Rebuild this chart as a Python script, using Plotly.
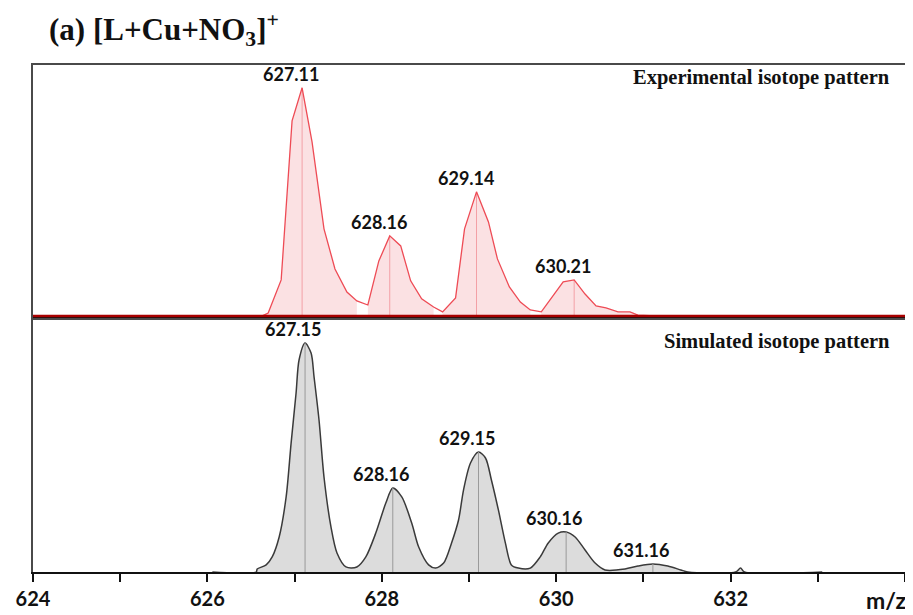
import numpy as np
import plotly.graph_objects as go

# ---------------- data ----------------
exp_mz = [626.629, 626.697, 626.846, 626.971, 627.086, 627.200, 627.337, 627.463, 627.600, 627.714,
          627.840, 627.966, 628.091, 628.217, 628.331, 628.457, 628.594,
          628.697, 628.846, 628.949, 629.086, 629.223, 629.326, 629.463, 629.589, 629.703,
          629.829, 630.080, 630.206, 630.331, 630.457, 630.571, 630.709, 630.846, 630.937, 631.131]
exp_int = [0.0, 1.3, 15.8, 85.5, 100.0, 76.3, 38.2, 20.6, 10.5, 6.6,
           4.8, 24.1, 35.1, 30.7, 15.4, 7.5, 3.9,
           1.8, 7.9, 38.2, 54.4, 41.2, 25.0, 12.7, 6.1, 2.6,
           1.8, 14.9, 15.8, 9.6, 4.4, 3.5, 1.8, 1.8, 0.4, 0.0]
exp_segments = [(626.6, 627.72), (627.83, 628.60), (628.69, 629.71), (629.82, 631.2)]
exp_labels = ["627.11", "628.16", "629.14", "630.21"]

sim_mz = [626.057, 626.560, 626.571, 626.674, 626.743, 626.823, 626.903, 626.960, 627.017, 627.051,
          627.120, 627.189, 627.223, 627.280, 627.337, 627.417, 627.486, 627.589,
          627.714, 627.817, 627.931, 628.046, 628.126, 628.229, 628.343, 628.423, 628.537, 628.617,
          628.709, 628.800, 628.880, 628.937, 629.017, 629.109, 629.189, 629.257, 629.337, 629.417,
          629.486, 629.566, 629.703, 629.817, 629.909, 630.023, 630.114, 630.217, 630.331, 630.446,
          630.560, 630.789, 630.937, 631.109, 631.280, 631.429, 631.509, 632.057, 632.114, 632.160, 633.051]
sim_int = [0.0, 0.0, 1.3, 3.1, 6.6, 15.3, 32.8, 56.3, 78.2, 92.6,
           100.0, 95.6, 85.2, 66.4, 41.5, 19.7, 8.3, 2.2,
           2.2, 6.6, 17.0, 30.1, 36.7, 32.8, 21.4, 10.9, 3.1, 1.7,
           3.9, 12.7, 22.7, 35.8, 47.6, 52.4, 49.8, 40.2, 27.1, 12.7,
           3.1, 1.7, 1.7, 6.6, 12.7, 17.0, 17.5, 15.3, 9.6, 3.9,
           0.9, 1.3, 2.6, 3.5, 2.6, 0.9, 0.0, 0.0, 1.7, 0.0, 0.0]
sim_segments = [(626.5, 627.65), (627.65, 628.66), (628.66, 629.6), (629.6, 630.7), (630.7, 631.6)]
sim_labels = ["627.15", "628.16", "629.15", "630.16", "631.16"]

x_range = [624, 634]
tick_vals = [624, 625, 626, 627, 628, 629, 630, 631, 632, 633, 634]
tick_text = ["624", "", "626", "", "628", "", "630", "", "632", "", ""]

# ---------------- styling ----------------
RED = "#ee4b55"
PINK = "rgba(248,200,204,0.55)"
RED_C = "#f3a0a6"
DARKRED = "#a80000"
GRAY_L = "#3a3a3a"
GRAY_F = "#dcdcdc"
GRAY_C = "#9a9a9a"
FRAME = "#4a4a4a"
LABEL_FONT = dict(family="Lato", size=18, color="#111")

# page body has an 8px default margin; figure is sized to fit the 913x615 window
W, H = 905, 607

fig = go.Figure()

exp_x = np.array(exp_mz)
exp_y = np.array(exp_int)
sim_x = np.array(sim_mz)
sim_y = np.array(sim_int)

# experimental fills per peak
for a, b in exp_segments:
    m = (exp_x >= a) & (exp_x <= b)
    fig.add_trace(go.Scatter(x=exp_x[m], y=exp_y[m], mode="lines", line=dict(width=0),
                             fill="tozeroy", fillcolor=PINK, xaxis="x2", yaxis="y2",
                             hoverinfo="skip", showlegend=False))
# experimental centroid lines + labels
exp_apex = []
for (a, b) in exp_segments:
    m = np.where((exp_x >= a) & (exp_x <= b))[0]
    i = m[np.argmax(exp_y[m])]
    exp_apex.append((exp_x[i], exp_y[i]))
for (px, py) in exp_apex:
    fig.add_trace(go.Scatter(x=[px, px], y=[0, py], mode="lines", line=dict(color=RED_C, width=1),
                             xaxis="x2", yaxis="y2", hoverinfo="skip", showlegend=False))
fig.add_trace(go.Scatter(x=exp_x, y=exp_y, mode="lines", line=dict(color=RED, width=1.3),
                         xaxis="x2", yaxis="y2", showlegend=False))
fig.add_trace(go.Scatter(x=x_range, y=[0, 0], mode="lines", line=dict(color=DARKRED, width=2.5),
                         xaxis="x2", yaxis="y2", hoverinfo="skip", showlegend=False))

# simulated
fig.add_trace(go.Scatter(x=sim_x, y=sim_y, mode="lines", line=dict(color=GRAY_L, width=1.5, shape="spline", smoothing=0.8),
                         fill="tozeroy", fillcolor=GRAY_F, xaxis="x", yaxis="y", showlegend=False))
sim_apex = []
for (a, b) in sim_segments:
    m = np.where((sim_x >= a) & (sim_x <= b))[0]
    i = m[np.argmax(sim_y[m])]
    sim_apex.append((sim_x[i], sim_y[i]))
for (px, py) in sim_apex:
    fig.add_trace(go.Scatter(x=[px, px], y=[0, py], mode="lines", line=dict(color=GRAY_C, width=1),
                             xaxis="x", yaxis="y", hoverinfo="skip", showlegend=False))

annotations = []
for (px, py), t in zip(exp_apex, exp_labels):
    annotations.append(dict(x=px, y=py, xref="x2", yref="y2", text="<b>%s</b>" % t, showarrow=False,
                            xanchor="center", yanchor="bottom", xshift=-11, yshift=1, font=LABEL_FONT))
for (px, py), t in zip(sim_apex, sim_labels):
    annotations.append(dict(x=px, y=py, xref="x", yref="y", text="<b>%s</b>" % t, showarrow=False,
                            xanchor="center", yanchor="bottom", xshift=-12, yshift=1, font=LABEL_FONT))
annotations.append(dict(x=0.985, y=0.95, xref="x2 domain", yref="y2 domain", text="<b>Experimental isotope pattern</b>",
                        showarrow=False, xanchor="right", yanchor="middle",
                        font=dict(family="Liberation Serif", size=20.5, color="#111")))
annotations.append(dict(x=0.985, y=0.91, xref="x domain", yref="y domain", text="<b>Simulated isotope pattern</b>",
                        showarrow=False, xanchor="right", yanchor="middle",
                        font=dict(family="Liberation Serif", size=20.5, color="#111")))
annotations.append(dict(x=1.002, y=-0.056, xref="paper", yref="paper", text="<b>m/z</b>",
                        showarrow=False, xanchor="right", yanchor="middle", borderpad=0,
                        font=dict(family="Lato", size=23, color="#111")))

fig.update_layout(
    width=W, height=H,
    margin=dict(l=25, r=8, t=57, b=43, autoexpand=False),
    paper_bgcolor="white", plot_bgcolor="white",
    title=dict(text="<b>(a) [L+Cu+NO<sub>3</sub>]<sup>+</sup></b>", x=41 / W, xanchor="left", xref="container",
               y=1 - 21 / H, yanchor="middle", yref="container",
               font=dict(family="Liberation Serif", size=31, color="#111")),
    xaxis=dict(domain=[0, 1], range=x_range, anchor="y", tickmode="array", tickvals=tick_vals, ticktext=tick_text,
               ticks="outside", ticklen=8, tickwidth=1.5, tickcolor="#111", automargin=False,
               showline=True, linecolor="#111", linewidth=2, mirror=True, showgrid=False, zeroline=False,
               tickfont=dict(family="Lato", size=20, color="#111", weight="bold")),
    yaxis=dict(domain=[0, 0.499], range=[0, 110.5], showticklabels=False, ticks="", showgrid=False, automargin=False,
               zeroline=False, showline=True, linecolor=FRAME, linewidth=2, mirror=True),
    xaxis2=dict(domain=[0, 1], range=x_range, anchor="y2", matches="x", showticklabels=False, ticks="", automargin=False,
                showline=True, linecolor=FRAME, linewidth=2, mirror=True, showgrid=False, zeroline=False),
    yaxis2=dict(domain=[0.501, 1], range=[-0.9, 110], showticklabels=False, ticks="", showgrid=False, automargin=False,
                zeroline=False, showline=True, linecolor=FRAME, linewidth=2, mirror=True),
    annotations=annotations,
)

fig.write_html("out.html")
